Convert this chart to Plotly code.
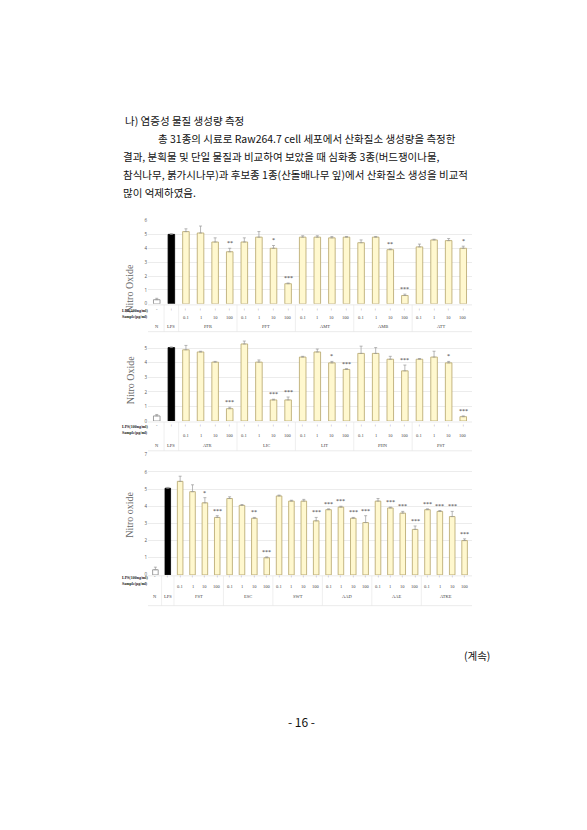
import plotly.graph_objects as go

doses = ["0.1", "1", "10", "100"]

groups1 = ["PFR", "PFT", "AMT", "AMB", "ATT"]
vals1 = [0.3, 5.0, 5.2, 5.1, 4.45, 3.75, 4.45, 4.8, 4.0, 1.45, 4.8, 4.8, 4.75, 4.8,
         4.4, 4.8, 3.9, 0.6, 4.1, 4.6, 4.55, 4.0]
err1 = [0.1, 0.05, 0.2, 0.5, 0.3, 0.25, 0.3, 0.4, 0.2, 0.05, 0.1, 0.1, 0.1, 0.05,
        0.2, 0.05, 0.05, 0.1, 0.2, 0.05, 0.15, 0.15]
stars1 = ["", "", "", "", "", "**", "", "", "*", "***", "", "", "", "",
          "", "", "**", "***", "", "", "", "*"]

groups2 = ["ATR", "LIC", "LIT", "PHN", "PST"]
vals2 = [0.35, 5.05, 4.9, 4.75, 4.05, 0.85, 5.3, 4.05, 1.45, 1.45, 4.4, 4.75, 4.0, 3.55,
         4.65, 4.65, 4.25, 3.45, 4.25, 4.4, 4.0, 0.3]
err2 = [0.1, 0.05, 0.3, 0.05, 0.05, 0.1, 0.2, 0.15, 0.05, 0.2, 0.05, 0.2, 0.1, 0.05,
        0.5, 0.4, 0.2, 0.4, 0.05, 0.4, 0.1, 0.05]
stars2 = ["", "", "", "", "", "***", "", "", "***", "***", "", "", "*", "***",
          "", "", "", "***", "", "", "*", "***"]

groups3 = ["FST", "ESC", "SWT", "AAD", "AAE", "ATKE"]
vals3 = [0.3, 5.05, 5.45, 4.85, 4.2, 3.35, 4.45, 4.05, 3.3, 1.0, 4.6, 4.3, 4.3, 3.15,
         3.8, 3.95, 3.3, 3.05, 4.3, 3.9, 3.6, 2.65, 3.8, 3.7, 3.4, 2.0]
err3 = [0.15, 0.05, 0.3, 0.4, 0.3, 0.1, 0.1, 0.05, 0.05, 0.05, 0.05, 0.05, 0.1, 0.2,
        0.05, 0.05, 0.05, 0.4, 0.15, 0.05, 0.1, 0.2, 0.05, 0.05, 0.3, 0.1]
stars3 = ["", "", "", "", "*", "***", "", "", "**", "***", "", "", "", "***",
          "***", "***", "***", "***", "", "***", "***", "***", "***", "***", "***", "***"]

W, H = 587, 830
def py(y):
    return 1 - y / H

charts = [
    dict(groups=groups1, vals=vals1, err=err1, stars=stars1, y0=295, y1=211, ymax=6,
         rows=(301, 309, 318), title="Nitro Oxide"),
    dict(groups=groups2, vals=vals2, err=err2, stars=stars2, y0=413, y1=331, ymax=5.6,
         rows=(418, 428, 438), title="Nitro Oxide"),
    dict(groups=groups3, vals=vals3, err=err3, stars=stars3, y0=568, y1=447, ymax=7,
         rows=(574, 584, 594), title="Nitro oxide"),
]

fig = go.Figure()
annots = []
shapes = []
xl, xr = 140 / W, 464 / W
for k, c in enumerate(charts):
    n = len(c["vals"])
    xs = list(range(n))
    colors = ["white", "black"] + ["#FFF8CF"] * (n - 2)
    lines = ["#888888", "black"] + ["#B5A46A"] * (n - 2)
    xa = "x" if k == 0 else f"x{k+1}"
    ya = "y" if k == 0 else f"y{k+1}"
    fig.add_trace(go.Bar(x=xs, y=c["vals"], width=0.45,
                         marker=dict(color=colors, line=dict(color=lines, width=0.8)),
                         error_y=dict(type="data", array=c["err"], symmetric=False,
                                      color="#999", thickness=0.7, width=1.5),
                         xaxis=xa, yaxis=ya, showlegend=False))
    dom_y = [py(c["y0"]), py(c["y1"])]
    fig.layout[f"xaxis{'' if k == 0 else k+1}"] = dict(
        domain=[xl, xr], anchor=ya, range=[-0.6, n - 0.4], showticklabels=False,
        showgrid=False, zeroline=False, showline=False)
    fig.layout[f"yaxis{'' if k == 0 else k+1}"] = dict(
        domain=dom_y, anchor=xa, range=[0, c["ymax"]], dtick=1,
        tickfont=dict(size=4.5, color="#555"), showgrid=True, gridcolor="#ECECEC",
        gridwidth=0.6, zeroline=False, showline=False, ticks="")
    annots.append(dict(text=c["title"], xref="paper", yref="paper", x=122 / W,
                       y=(dom_y[0] + dom_y[1]) / 2, textangle=-90, showarrow=False,
                       xanchor="center",
                       font=dict(size=10, color="#666", family="Liberation Serif")))
    for i, s in enumerate(c["stars"]):
        if s:
            annots.append(dict(text=s, x=i, y=c["vals"][i] + c["err"][i], xref=xa, yref=ya,
                               yshift=5, showarrow=False,
                               font=dict(size=6, color="#333", family="Liberation Serif")))
    r1, r2, r3 = c["rows"]
    f = dict(size=4.5, color="#444", family="Liberation Serif")
    for i in range(n):
        annots.append(dict(text="-" if i == 0 else "+", x=i, y=py(r1), xref=xa, yref="paper",
                           showarrow=False, font=f))
        if i >= 2:
            annots.append(dict(text=doses[(i - 2) % 4], x=i, y=py(r2), xref=xa, yref="paper",
                               showarrow=False, font=f))
    annots.append(dict(text="N", x=0, y=py(r3), xref=xa, yref="paper", showarrow=False, font=f))
    annots.append(dict(text="LPS", x=1, y=py(r3), xref=xa, yref="paper", showarrow=False, font=f))
    for g, name in enumerate(c["groups"]):
        annots.append(dict(text=name, x=2 + 4 * g + 1.5, y=py(r3), xref=xa, yref="paper",
                           showarrow=False, font=f))
    bf = dict(size=4, color="#222", family="Liberation Serif")
    annots.append(dict(text="<b>LPS(100ng/ml)</b>", x=112 / W, y=py(r1 + 1), xref="paper",
                       yref="paper", xanchor="left", showarrow=False, font=bf))
    annots.append(dict(text="<b>Sample(μg/ml)</b>", x=112 / W, y=py(r1 + 7), xref="paper",
                       yref="paper", xanchor="left", showarrow=False, font=bf))
    for yy in (c["y0"] + 1, r3 + 5):
        shapes.append(dict(type="line", xref="paper", yref="paper", x0=xl, x1=xr,
                           y0=py(yy), y1=py(yy), line=dict(color="#DDD", width=0.6)))
    for b in [0.5, 1.5] + [1.5 + 4 * g for g in range(1, len(c["groups"]))]:
        shapes.append(dict(type="line", xref=xa, yref="paper", x0=b, x1=b,
                           y0=py(c["y0"] + 1), y1=py(r3 + 5), line=dict(color="#E4E4E4", width=0.6)))

tf = dict(size=10.5, color="#111", family="Noto Sans CJK KR")
text_lines = [
    (115, 101, "나) 염증성 물질 생성량 측정"),
    (148, 119, "총 31종의 시료로 Raw264.7 cell 세포에서 산화질소 생성량을 측정한"),
    (113, 137, "결과, 분획물 및 단일 물질과 비교하여 보았을 때 심화종 3종(버드쟁이나물,"),
    (113, 155, "참식나무, 붉가시나무)과 후보종 1종(산돌배나무 잎)에서 산화질소 생성을 비교적"),
    (113, 173, "많이 억제하였음."),
]
for x, y, t in text_lines:
    annots.append(dict(text=t, x=x / W, y=py(y), xref="paper", yref="paper", xanchor="left",
                       showarrow=False, font=tf))
annots.append(dict(text="(계속)", x=484 / W, y=py(659), xref="paper", yref="paper",
                   xanchor="right", showarrow=False, font=tf))
annots.append(dict(text="- 16 -", x=0.5, y=py(726), xref="paper", yref="paper",
                   showarrow=False, font=dict(size=12, color="#111", family="Noto Sans CJK KR")))

fig.update_layout(width=W, height=H, margin=dict(l=0, r=0, t=0, b=0),
                  paper_bgcolor="white", plot_bgcolor="white", annotations=annots,
                  shapes=shapes, bargap=0.5)
fig.write_html("out.html")
